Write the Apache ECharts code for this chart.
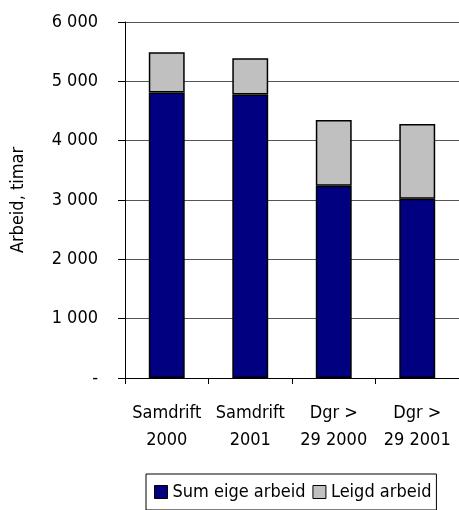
<!DOCTYPE html>
<html>
<head>
<meta charset="utf-8">
<script src="https://cdn.jsdelivr.net/npm/echarts@6/dist/echarts.min.js"></script>
<style>
  html, body { margin: 0; padding: 0; background: #fff; }
  #chart { width: 459px; height: 510px; }
</style>
</head>
<body>
<div id="chart"></div>
<script>
var categories = ["Samdrift\n2000", "Samdrift\n2001", "Dgr >\n29 2000", "Dgr >\n29 2001"];
var eigeArbeid = [4810, 4780, 3240, 3020];
var leigdArbeid = [680, 610, 1110, 1260];
var seriesNames = ["Sum eige arbeid", "Leigd arbeid"];
var yTicks = [0, 1000, 2000, 3000, 4000, 5000, 6000];

var font = "'DejaVu Sans Condensed', 'Liberation Sans', sans-serif";
var fs = 18;
var chart = echarts.init(document.getElementById("chart"));

var option = {
  animation: false,
  textStyle: { fontFamily: font },
  grid: { left: 125, top: 22, bottom: 132, right: 0, outerBoundsMode: "none", containLabel: false },
  legend: {
    left: 146,
    top: 474,
    data: seriesNames,
    icon: "rect",
    orient: "horizontal",
    itemWidth: 13,
    itemHeight: 13,
    itemGap: 7,
    itemStyle: { borderColor: "#000", borderWidth: 1 },
    borderColor: "#000",
    borderWidth: 1,
    padding: [9, 5, 9, 8],
    textStyle: { fontFamily: font, fontSize: fs, color: "#000", padding: [0, 0, 0, 0] }
  },
  xAxis: {
    type: "category",
    data: categories,
    axisLine: { lineStyle: { color: "#000", width: 1 } },
    axisTick: { show: true, length: 6, lineStyle: { color: "#000" } },
    axisLabel: {
      color: "#000",
      fontSize: fs,
      fontFamily: font,
      lineHeight: 27,
      margin: 22,
      interval: 0
    }
  },
  yAxis: {
    type: "value",
    min: yTicks[0],
    max: yTicks[yTicks.length - 1],
    interval: 1000,
    name: "Arbeid, timar",
    nameLocation: "middle",
    nameGap: 98,
    nameTextStyle: { color: "#000", fontSize: fs, fontFamily: font },
    axisLine: { show: true, lineStyle: { color: "#000", width: 1 } },
    axisTick: { show: true, inside: false, length: 7, lineStyle: { color: "#000" } },
    splitLine: { show: true, lineStyle: { color: "#555", width: 1 } },
    axisLabel: {
      color: "#000",
      fontSize: fs,
      fontFamily: font,
      margin: 27,
      formatter: function (v) {
        if (v === 0) return "-";
        var s = String(v);
        return s.slice(0, s.length - 3) + " " + s.slice(-3);
      }
    }
  },
  series: [
    {
      name: seriesNames[0],
      type: "bar",
      stack: "a",
      barWidth: "43%",
      data: eigeArbeid,
      itemStyle: { color: "#000080", borderColor: "#000", borderWidth: 1.5 }
    },
    {
      name: seriesNames[1],
      type: "bar",
      stack: "a",
      barWidth: "43%",
      data: leigdArbeid,
      itemStyle: { color: "#c0c0c0", borderColor: "#000", borderWidth: 1.5 }
    }
  ]
};
chart.setOption(option);
</script>
</body>
</html>
